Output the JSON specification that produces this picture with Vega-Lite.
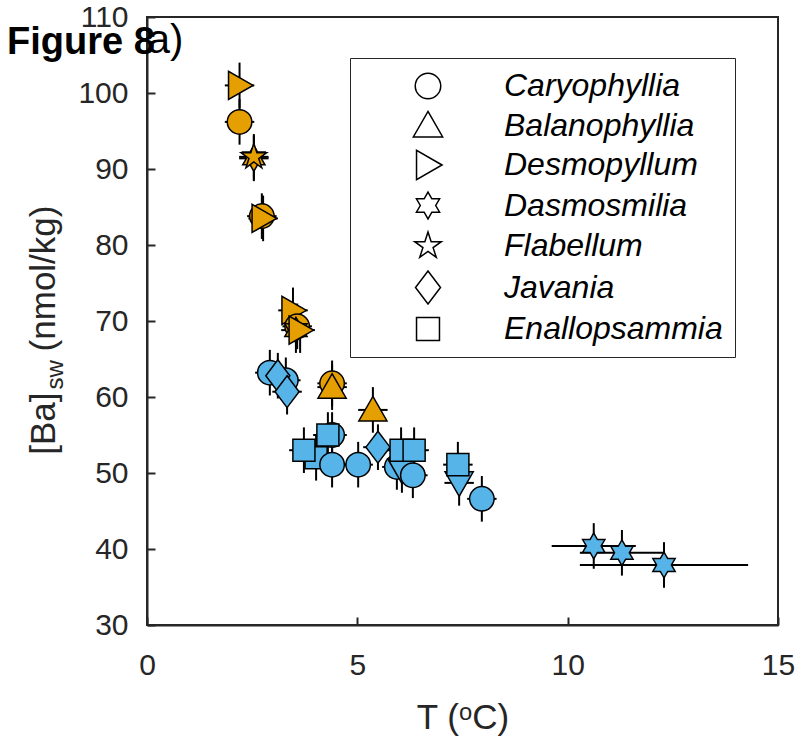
{
  "$schema": "https://vega.github.io/schema/vega-lite/v6.json",
  "autosize": {"type": "none"},
  "padding": {"left": 147, "top": 17, "right": 23, "bottom": 120},
  "width": 631,
  "height": 608,
  "background": "white",
  "title": {"text": "Figure 8", "anchor": "start", "frame": "group", "orient": "top", "font": "Liberation Sans", "fontSize": 38, "fontWeight": "bold", "color": "black", "baseline": "alphabetic", "dx": -140, "dy": 90, "offset": 0},
  "config": {
    "view": {"stroke": "#262626", "strokeWidth": 2},
    "axis": {"grid": false, "labelFont": "Liberation Sans", "titleFont": "Liberation Sans", "labelColor": "#262626", "titleColor": "#262626", "domainColor": "#262626", "domainWidth": 2, "tickColor": "#262626", "tickWidth": 2, "tickSize": -8, "labelFontSize": 30, "titleFontSize": 35, "titleFontWeight": "normal", "labelFlush": false, "labelOverlap": false, "labelBound": false}
  },
  "datasets": {
    "corals": [
      {"sym": "Desmopyllum", "set": "s1", "T": 2.2, "Ba": 101.0, "eT": 0.35, "eB": 3},
      {"sym": "Caryophyllia", "set": "s1", "T": 2.2, "Ba": 96.2, "eT": 0.35, "eB": 3},
      {"sym": "Dasmosmilia", "set": "s1", "T": 2.54, "Ba": 91.4, "eT": 0.35, "eB": 3},
      {"sym": "Flabellum", "set": "s1", "T": 2.54, "Ba": 91.6, "eT": 0.35, "eB": 3},
      {"sym": "Caryophyllia", "set": "s1", "T": 2.73, "Ba": 83.8, "eT": 0.35, "eB": 3},
      {"sym": "Desmopyllum", "set": "s1", "T": 2.76, "Ba": 83.5, "eT": 0.35, "eB": 3},
      {"sym": "Desmopyllum", "set": "s1", "T": 3.47, "Ba": 71.4, "eT": 0.35, "eB": 3},
      {"sym": "Caryophyllia", "set": "s1", "T": 3.57, "Ba": 69.3, "eT": 0.35, "eB": 3},
      {"sym": "Dasmosmilia", "set": "s1", "T": 3.54, "Ba": 68.8, "eT": 0.35, "eB": 3},
      {"sym": "Desmopyllum", "set": "s1", "T": 3.64, "Ba": 68.8, "eT": 0.35, "eB": 3},
      {"sym": "Caryophyllia", "set": "s1", "T": 4.4, "Ba": 61.8, "eT": 0.35, "eB": 3},
      {"sym": "Balanophyllia", "set": "s1", "T": 4.4, "Ba": 61.3, "eT": 0.35, "eB": 3},
      {"sym": "Balanophyllia", "set": "s1", "T": 5.37, "Ba": 58.3, "eT": 0.35, "eB": 3},
      {"sym": "Caryophyllia", "set": "s2", "T": 2.92, "Ba": 63.2, "eT": 0.35, "eB": 3},
      {"sym": "Caryophyllia", "set": "s2", "T": 3.3, "Ba": 62.2, "eT": 0.35, "eB": 3},
      {"sym": "Javania", "set": "s2", "T": 3.11, "Ba": 62.8, "eT": 0.35, "eB": 3},
      {"sym": "Javania", "set": "s2", "T": 3.33, "Ba": 60.7, "eT": 0.35, "eB": 3},
      {"sym": "Caryophyllia", "set": "s2", "T": 4.4, "Ba": 55.0, "eT": 0.35, "eB": 3},
      {"sym": "Enallopsammia", "set": "s2", "T": 4.3, "Ba": 55.0, "eT": 0.35, "eB": 3},
      {"sym": "Enallopsammia", "set": "s2", "T": 4.02, "Ba": 52.0, "eT": 0.35, "eB": 3},
      {"sym": "Enallopsammia", "set": "s2", "T": 3.73, "Ba": 53.0, "eT": 0.35, "eB": 3},
      {"sym": "Caryophyllia", "set": "s2", "T": 4.4, "Ba": 51.1, "eT": 0.35, "eB": 3},
      {"sym": "Caryophyllia", "set": "s2", "T": 5.02, "Ba": 51.1, "eT": 0.35, "eB": 3},
      {"sym": "Javania", "set": "s2", "T": 5.49, "Ba": 53.4, "eT": 0.35, "eB": 3},
      {"sym": "Caryophyllia", "set": "s2", "T": 5.94, "Ba": 50.8, "eT": 0.35, "eB": 3},
      {"sym": "Balanophyllia (v)", "set": "s2", "T": 6.06, "Ba": 50.4, "eT": 0.35, "eB": 3},
      {"sym": "Caryophyllia", "set": "s2", "T": 6.32, "Ba": 49.7, "eT": 0.35, "eB": 3},
      {"sym": "Enallopsammia", "set": "s2", "T": 6.04, "Ba": 53.0, "eT": 0.35, "eB": 3},
      {"sym": "Enallopsammia", "set": "s2", "T": 6.35, "Ba": 53.0, "eT": 0.35, "eB": 3},
      {"sym": "Balanophyllia (v)", "set": "s2", "T": 7.42, "Ba": 48.7, "eT": 0.35, "eB": 3},
      {"sym": "Enallopsammia", "set": "s2", "T": 7.39, "Ba": 51.1, "eT": 0.35, "eB": 3},
      {"sym": "Caryophyllia", "set": "s2", "T": 7.96, "Ba": 46.6, "eT": 0.35, "eB": 3},
      {"sym": "Dasmosmilia", "set": "s2", "T": 10.62, "Ba": 40.4, "eT": 1.0, "eB": 3},
      {"sym": "Dasmosmilia", "set": "s2", "T": 11.29, "Ba": 39.5, "eT": 1.0, "eB": 3},
      {"sym": "Dasmosmilia", "set": "s2", "T": 12.29, "Ba": 37.9, "eT": 2.0, "eB": 3}
    ],
    "labels": [
      {"t": "a)", "part": "panel"},
      {"t": "[Ba]", "part": "ylab1"},
      {"t": "sw", "part": "ylab2"},
      {"t": "(nmol/kg)", "part": "ylab3"}
    ]
  },
  "layer": [
    {"data": {"name": "corals"},
      "mark": {"type": "errorbar", "ticks": false, "color": "black", "thickness": 2},
      "encoding": {
        "x": {"field": "T", "type": "quantitative", "scale": {"domain": [0, 15], "nice": false, "zero": false},
          "axis": {"title": "T (ᵒC)", "values": [0, 5, 10, 15], "format": "d", "labelPadding": 33, "titlePadding": 20}},
        "y": {"field": "Ba", "type": "quantitative", "scale": {"domain": [30, 110], "nice": false, "zero": false},
          "axis": {"title": null, "values": [30, 40, 50, 60, 70, 80, 90, 100, 110], "format": "d", "labelPadding": 27}},
        "xError": {"field": "eT"}}},
    {"data": {"name": "corals"},
      "mark": {"type": "errorbar", "ticks": false, "color": "black", "thickness": 2},
      "encoding": {
        "x": {"field": "T", "type": "quantitative"},
        "y": {"field": "Ba", "type": "quantitative"},
        "yError": {"field": "eB"}}},
    {"data": {"name": "corals"},
      "mark": {"type": "point", "filled": true, "size": 600, "stroke": "black", "strokeWidth": 1.5, "opacity": 1},
      "encoding": {
        "x": {"field": "T", "type": "quantitative"},
        "y": {"field": "Ba", "type": "quantitative"},
        "fill": {"field": "set", "type": "nominal", "scale": {"domain": ["s1", "s2"], "range": ["#E69F00", "#56B4E9"]}, "legend": null},
        "shape": {"field": "sym", "type": "nominal",
          "scale": {"domain": ["Caryophyllia", "Balanophyllia", "Desmopyllum", "Dasmosmilia", "Flabellum", "Javania", "Enallopsammia", "Balanophyllia (v)"],
            "range": ["circle", "M0,-1.1L1.15,0.9L-1.15,0.9Z", "M1.1,0L-0.9,-1.15L-0.9,1.15Z", "M0,-1.05L0.303,-0.525L0.909,-0.525L0.606,0L0.909,0.525L0.303,0.525L0,1.05L-0.303,0.525L-0.909,0.525L-0.606,0L-0.909,-0.525L-0.303,-0.525Z", "M0,-1.1L0.247,-0.34L1.046,-0.34L0.4,0.13L0.647,0.89L0,0.42L-0.647,0.89L-0.4,0.13L-1.046,-0.34L-0.247,-0.34Z", "M0,-1.3L0.98,0L0,1.3L-0.98,0Z", "M-0.9,-0.9L0.9,-0.9L0.9,0.9L-0.9,0.9Z", "M0,1.1L1.15,-0.9L-1.15,-0.9Z"]},
          "legend": {"orient": "none", "legendX": 203, "legendY": 41, "title": null,
            "values": ["Caryophyllia", "Balanophyllia", "Desmopyllum", "Dasmosmilia", "Flabellum", "Javania", "Enallopsammia"],
            "padding": 12, "strokeColor": "#262626", "fillColor": "white",
            "symbolSize": 650, "symbolFillColor": "white", "symbolStrokeColor": "black", "symbolStrokeWidth": 1.5, "symbolOffset": 50,
            "labelFont": "Liberation Sans", "labelFontStyle": "italic", "labelFontSize": 32, "labelColor": "black", "labelOffset": 60, "rowPadding": 5.5, "labelLimit": 400}}
      }},
    {"data": {"name": "labels"},
      "transform": [{"filter": "datum.part === 'panel'"}],
      "mark": {"type": "text", "align": "left", "baseline": "alphabetic", "font": "Liberation Sans", "fontSize": 40, "color": "black"},
      "encoding": {"x": {"datum": 0.02, "type": "quantitative"}, "y": {"datum": 105.3, "type": "quantitative"}, "text": {"field": "t", "type": "nominal"}}},
    {"data": {"name": "labels"},
      "transform": [{"filter": "datum.part === 'ylab1'"}],
      "mark": {"type": "text", "angle": 270, "align": "left", "baseline": "alphabetic", "font": "Liberation Sans", "fontSize": 35, "color": "#262626"},
      "encoding": {"x": {"datum": -2.19, "type": "quantitative"}, "y": {"datum": 52.4, "type": "quantitative"}, "text": {"field": "t", "type": "nominal"}}},
    {"data": {"name": "labels"},
      "transform": [{"filter": "datum.part === 'ylab2'"}],
      "mark": {"type": "text", "angle": 270, "align": "left", "baseline": "alphabetic", "font": "Liberation Sans", "fontSize": 24, "color": "#262626"},
      "encoding": {"x": {"datum": -2.0, "type": "quantitative"}, "y": {"datum": 61.0, "type": "quantitative"}, "text": {"field": "t", "type": "nominal"}}},
    {"data": {"name": "labels"},
      "transform": [{"filter": "datum.part === 'ylab3'"}],
      "mark": {"type": "text", "angle": 270, "align": "left", "baseline": "alphabetic", "font": "Liberation Sans", "fontSize": 35, "color": "#262626"},
      "encoding": {"x": {"datum": -2.19, "type": "quantitative"}, "y": {"datum": 66.0, "type": "quantitative"}, "text": {"field": "t", "type": "nominal"}}}
  ]
}
